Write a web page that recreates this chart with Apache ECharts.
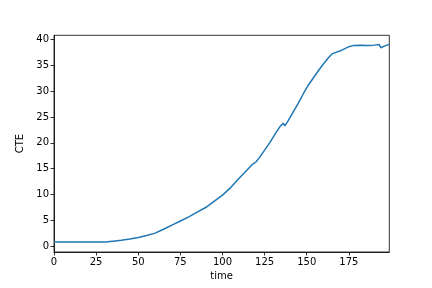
<!DOCTYPE html>
<html>
<head>
<meta charset="utf-8">
<script src="https://cdn.jsdelivr.net/npm/echarts@6/dist/echarts.min.js"></script>
<style>html,body{margin:0;padding:0;background:#fff}#c{width:432px;height:288px}</style>
</head>
<body>
<div id="c"></div>
<script>
var times = [0, 10, 20, 30, 35, 40, 45, 50, 55, 60, 65, 70, 75, 80, 85, 90, 95, 100, 105, 110, 115, 118, 120, 122, 125, 128, 131, 134, 136, 137, 139, 142, 145, 148, 151, 154, 157, 160, 163, 165, 166, 170, 175, 178, 182, 186, 190, 193, 194, 196, 199];
var cte = [0.85, 0.85, 0.85, 0.85, 1.0, 1.15, 1.4, 1.7, 2.1, 2.55, 3.3, 4.1, 4.9, 5.7, 6.6, 7.5, 8.7, 9.9, 11.4, 13.2, 14.9, 15.9, 16.35, 17.2, 18.6, 20.0, 21.6, 23.1, 23.8, 23.3, 24.3, 26.0, 27.7, 29.5, 31.2, 32.6, 34.0, 35.3, 36.5, 37.2, 37.0, 37.8, 38.6, 38.85, 38.9, 38.85, 38.9, 39.0, 38.4, 38.7, 39.05];
var xTicks = [0, 25, 50, 75, 100, 125, 150, 175];
var yTicks = [0, 5, 10, 15, 20, 25, 30, 35, 40];

var data = times.map(function (t, i) { return [t, cte[i]]; });
var font = 'DejaVu Sans';
var chart = echarts.init(document.getElementById('c'), null, {renderer: 'canvas'});
chart.setOption({
  animation: false,
  backgroundColor: '#fff',
  grid: {left: 54, right: 42.7, top: 35.3, bottom: 36, show: true, borderColor: '#000', borderWidth: 0.8, containLabel: false},
  xAxis: {
    type: 'value', min: 0, max: 199,
    name: 'time', nameLocation: 'middle', nameGap: 19,
    nameTextStyle: {fontFamily: font, fontSize: 10, color: '#000'},
    axisLine: {show: true, onZero: false, lineStyle: {color: '#000', width: 0.8}},
    axisTick: {show: true, length: 3.5, lineStyle: {color: '#000', width: 0.8}, customValues: xTicks},
    axisLabel: {fontFamily: font, fontSize: 10, color: '#000', margin: 5, customValues: xTicks},
    splitLine: {show: false}
  },
  yAxis: {
    type: 'value', min: -1.1, max: 40.8,
    name: 'CTE', nameLocation: 'middle', nameGap: 22, nameRotate: 90,
    nameTextStyle: {fontFamily: font, fontSize: 10, color: '#000'},
    axisLine: {show: true, onZero: false, lineStyle: {color: '#000', width: 0.8}},
    axisTick: {show: true, length: 3.5, lineStyle: {color: '#000', width: 0.8}, customValues: yTicks},
    axisLabel: {fontFamily: font, fontSize: 10, color: '#000', margin: 5, customValues: yTicks},
    splitLine: {show: false}
  },
  series: [{
    type: 'line', data: data, showSymbol: false, symbol: 'none',
    lineStyle: {color: '#1f77b4', width: 1.5}, itemStyle: {color: '#1f77b4'}
  }]
});
</script>
</body>
</html>
